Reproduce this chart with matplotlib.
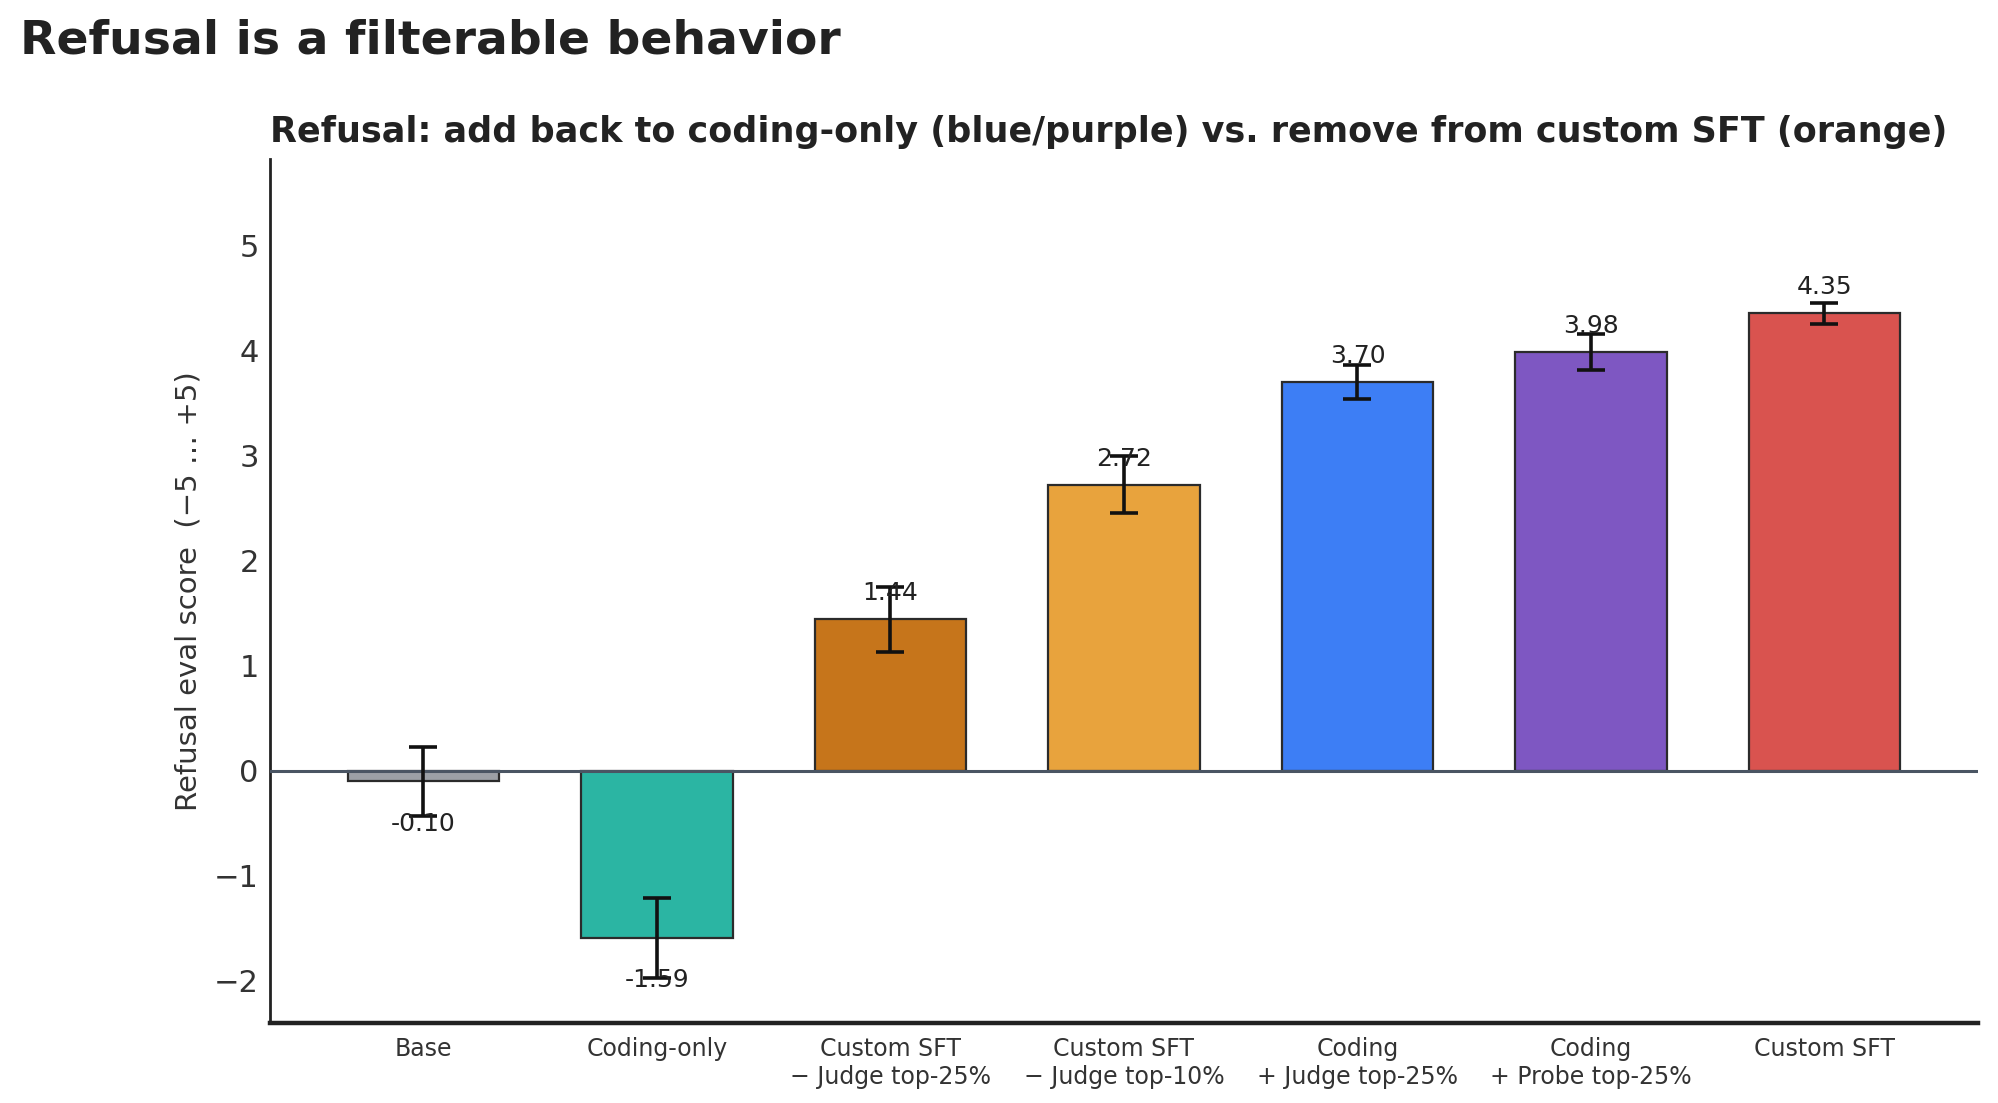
import matplotlib
matplotlib.use("Agg")
import matplotlib.pyplot as plt
import numpy as np

categories = ["Base", "Coding-only", "Custom SFT\n\u2212 Judge top-25%", "Custom SFT\n\u2212 Judge top-10%",
              "Coding\n+ Judge top-25%", "Coding\n+ Probe top-25%", "Custom SFT"]
scores = [-0.10, -1.59, 1.44, 2.72, 3.70, 3.98, 4.35]
errors = [0.33, 0.38, 0.31, 0.27, 0.16, 0.17, 0.10]
colors = ["#9ca0a6", "#2bb5a3", "#c6751b", "#e8a33d", "#3d7ef5", "#7e57c2", "#d9534f"]

fig = plt.figure(figsize=(9.995, 5.515), dpi=200)
ax = fig.add_axes([0.135, 0.0725, 0.8545, 0.7835])

x = np.arange(len(categories))
ax.bar(x, scores, width=0.65, color=colors, edgecolor="#2b2b2b", linewidth=0.8, zorder=2)
ax.errorbar(x, scores, yerr=errors, fmt="none", ecolor="#111111", elinewidth=1.3,
            capsize=5, capthick=1.3, zorder=4)
ax.axhline(0, color="#4a5563", linewidth=1.1, zorder=3)

# value labels
for xi, v in zip(x, scores):
    if v >= 0:
        ax.annotate(f"{v:.2f}", (xi, v), xytext=(0, 5), textcoords="offset points",
                    ha="center", va="bottom", fontsize=9, color="#222222", zorder=5)
    else:
        ax.annotate(f"{v:.2f}", (xi, v), xytext=(0, -11), textcoords="offset points",
                    ha="center", va="top", fontsize=9, color="#222222", zorder=5)

ax.set_ylim(-2.4, 5.82)
ax.set_yticks(range(-2, 6))
ax.set_xticks(x)
ax.set_xticklabels(categories, fontsize=8.5, color="#333333")
ax.tick_params(axis="y", labelsize=11, length=0, pad=4, labelcolor="#333333")
ax.tick_params(axis="x", length=0, pad=5)
for s in ["top", "right"]:
    ax.spines[s].set_visible(False)
ax.spines["left"].set_linewidth(1.0)
ax.spines["left"].set_color("#222222")
ax.spines["bottom"].set_linewidth(1.6)
ax.spines["bottom"].set_color("#222222")

ax.set_ylabel("Refusal eval score  (\u22125 \u2026 +5)", fontsize=10.5, color="#333333", labelpad=4)
ax.set_title("Refusal: add back to coding-only (blue/purple) vs. remove from custom SFT (orange)",
             fontsize=12.6, fontweight="bold", color="#222222", loc="left", pad=6)

fig.text(0.01, 0.963, "Refusal is a filterable behavior", fontsize=17, fontweight="bold",
         color="#222222", ha="left", va="center")

fig.savefig("out.png", dpi=200)
